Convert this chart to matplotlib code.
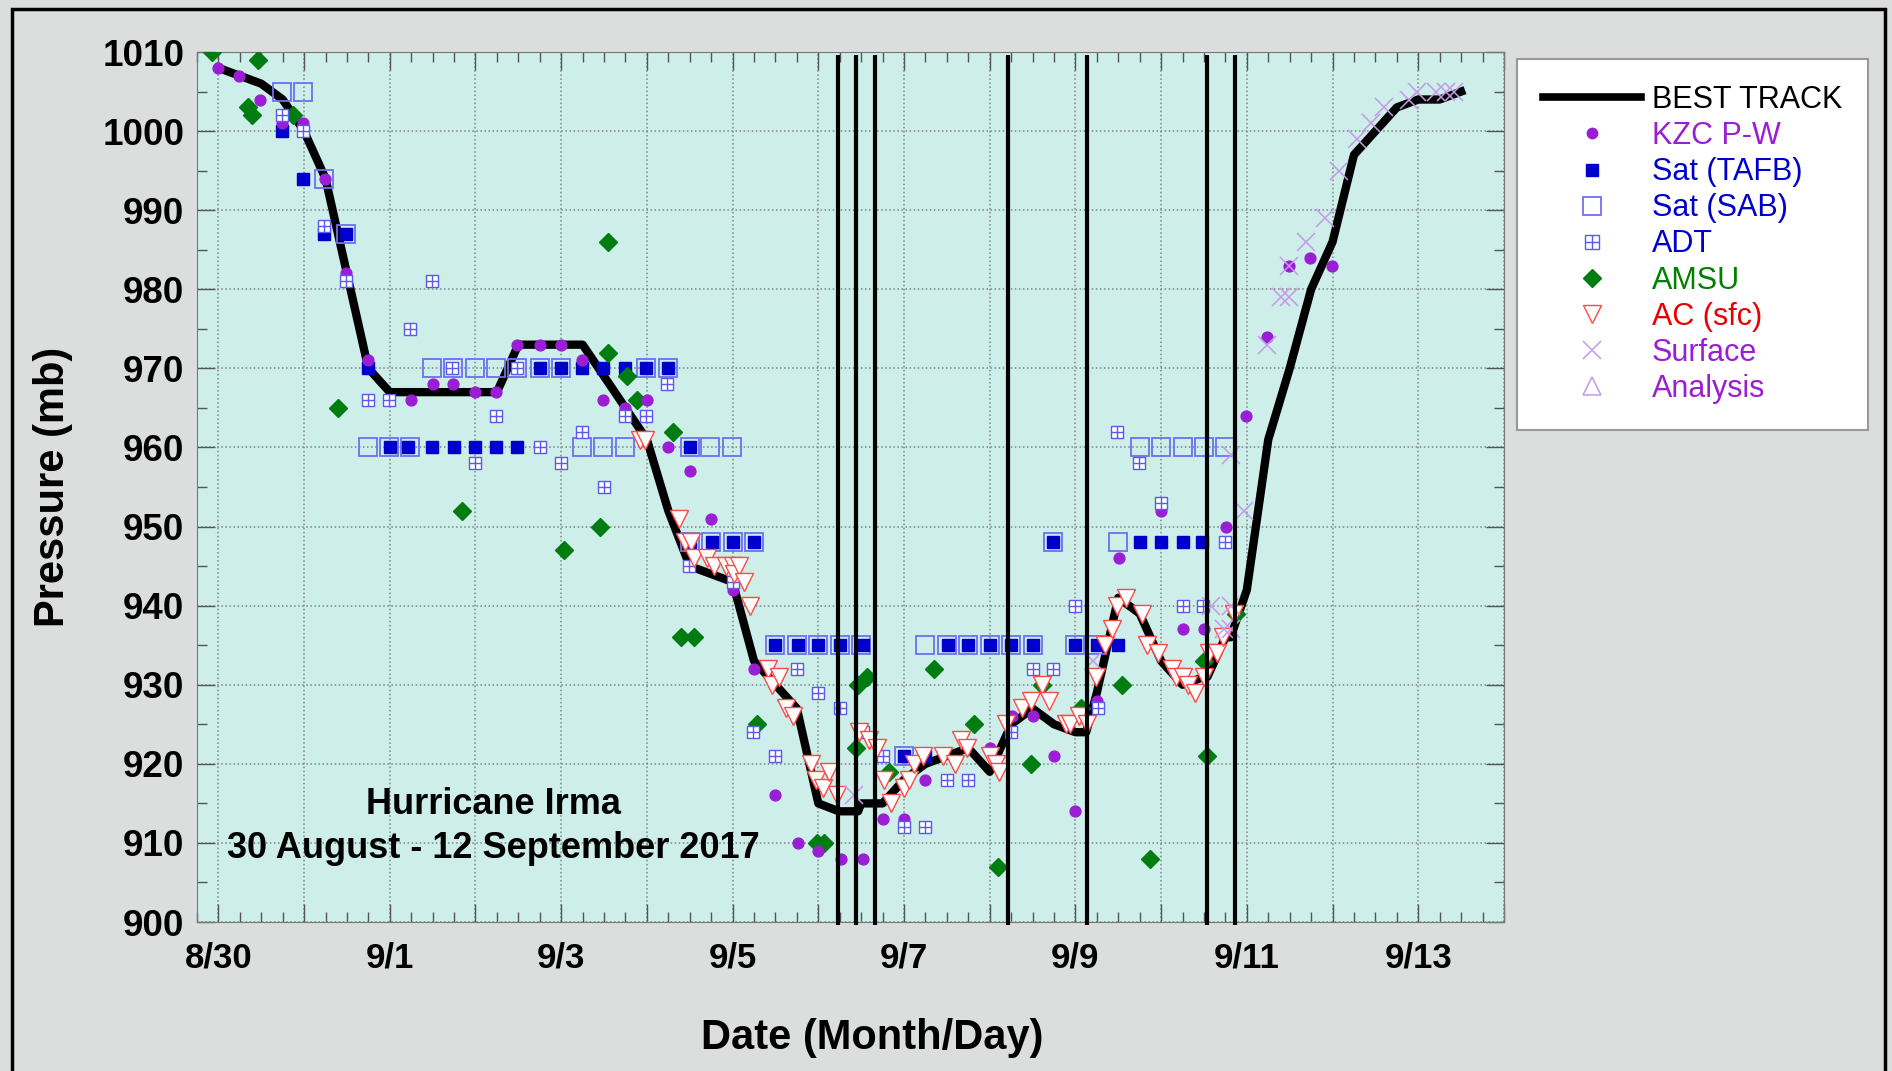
import numpy as np
import matplotlib.pyplot as plt
from matplotlib.lines import Line2D
from matplotlib.patches import Rectangle
from matplotlib.ticker import MultipleLocator

plt.rcParams['font.family'] = ['Liberation Sans', 'DejaVu Sans']

########################### DATA (days since 30 Aug 00 UTC, mb) ###########################
bt_day = [0, 0.25, 0.5, 0.75, 1, 1.25, 1.5, 1.75, 2, 2.25, 2.5, 2.75, 3, 3.25, 3.5, 3.75, 4, 4.25,
          4.5, 4.75, 5, 5.25, 5.5, 5.75, 6, 6.25, 6.5, 6.75, 7, 7.24, 7.25, 7.465, 7.5, 7.69, 7.75,
          8, 8.25, 8.5, 8.75, 9, 9.21, 9.25, 9.5, 9.75, 10, 10.125, 10.25, 10.5, 10.75, 11, 11.25,
          11.5, 11.54, 11.75, 11.81, 12, 12.25, 12.5, 12.75, 13, 13.25, 13.5, 13.75, 14, 14.25, 14.5]
bt_mb = [1008, 1007, 1006, 1004, 1000, 994, 982, 970, 967, 967, 967, 967, 967, 967, 973, 973, 973, 973,
         969, 965, 961, 952, 945, 944, 943, 933, 930, 927, 915, 914, 914, 914, 915, 915, 915,
         918, 920, 921, 922, 919, 924, 925, 927, 925, 924, 924, 929, 941, 939, 933, 930,
         931, 931, 936, 936, 942, 961, 970, 980, 986, 997, 1000, 1003, 1004, 1004, 1005]

kzc_day = [0.0, 0.24, 0.49, 0.74, 0.99, 1.24, 1.49, 1.74, 2.25, 2.5, 2.74, 3.0, 3.24, 3.49, 3.75, 4.0,
           4.24, 4.49, 4.75, 5.0, 5.25, 5.5, 5.75, 6.0, 6.25, 6.5, 6.76, 7.0, 7.26, 7.52, 7.76, 8.0,
           8.25, 9.0, 9.26, 9.5, 9.75, 10.0, 10.25, 10.51, 11.0, 11.25, 11.5, 11.76, 11.99, 12.23,
           12.49, 12.74, 12.99]
kzc_mb = [1008, 1007, 1004, 1001, 1001, 994, 982, 971, 966, 968, 968, 967, 967, 973, 973, 973,
          971, 966, 965, 966, 960, 957, 951, 942, 932, 916, 910, 909, 908, 908, 913, 913,
          918, 922, 926, 926, 921, 914, 928, 946, 952, 937, 937, 950, 964, 974,
          983, 984, 983]

tafb_day = [0.74, 0.99, 1.23, 1.49, 1.74, 2.0, 2.21, 2.49, 2.75, 3.0, 3.24, 3.49, 3.75, 4.0, 4.24,
            4.49, 4.75, 4.99, 5.25, 5.5, 5.5, 5.76, 6.0, 6.25, 6.5, 6.76, 7.0, 7.25, 7.52, 8.0, 8.25,
            8.51, 8.75, 9.0, 9.25, 9.5, 9.74, 10.0, 10.25, 10.5, 10.75, 11.0, 11.25, 11.48]
tafb_mb = [1000, 994, 987, 987, 970, 960, 960, 960, 960, 960, 960, 960, 970, 970, 970,
           970, 970, 970, 970, 960, 948, 948, 948, 948, 935, 935, 935, 935, 935, 921, 921,
           935, 935, 935, 935, 935, 948, 935, 935, 935, 948, 948, 948, 948]

sab_day = [0.74, 0.99, 1.23, 1.49, 1.74, 1.99, 2.24, 2.49, 2.74, 2.99, 3.24, 3.49, 3.75, 4.0, 4.24,
           4.49, 4.75, 4.99, 5.25, 5.5, 5.74, 5.99, 5.5, 5.75, 6.0, 6.25, 6.5, 6.75, 7.0, 7.25, 7.5,
           8.0, 8.25, 8.5, 8.75, 9.0, 9.25, 9.5, 9.74, 10.0, 10.25, 10.5, 10.75, 11.0, 11.25, 11.5,
           11.75]
sab_mb = [1005, 1005, 994, 987, 960, 960, 960, 970, 970, 970, 970, 970, 970, 970, 960,
          960, 960, 970, 970, 960, 960, 960, 948, 948, 948, 948, 935, 935, 935, 935, 935,
          921, 935, 935, 935, 935, 935, 935, 948, 935, 935, 948, 960, 960, 960, 960,
          960]

adt_day = [0.74, 0.99, 1.23, 1.49, 1.74, 1.99, 2.24, 2.49, 2.73, 2.99, 3.24, 3.49, 3.75, 4.0, 4.24,
           4.5, 4.74, 4.99, 5.23, 5.49, 6.0, 6.24, 6.5, 6.75, 7.0, 7.25, 7.52, 7.76, 8.0, 8.25, 8.5,
           8.75, 9.25, 9.5, 9.74, 10.0, 10.26, 10.49, 10.74, 11.0, 11.25, 11.49, 11.75]
adt_mb = [1002, 1000, 988, 981, 966, 966, 975, 981, 970, 958, 964, 970, 960, 958, 962,
          955, 964, 964, 968, 945, 943, 924, 921, 932, 929, 927, 924, 921, 912, 912, 918,
          918, 924, 932, 932, 940, 927, 962, 958, 953, 940, 940, 948]

amsu_day = [-0.07, 0.34, 0.39, 0.46, 0.87, 1.39, 2.84, 4.03, 4.45, 4.55, 4.55, 4.77, 4.88, 5.3, 5.4,
            5.55, 6.29, 6.98, 7.07, 7.44, 7.46, 7.57, 7.83, 8.35, 8.82, 9.1, 9.48, 9.61, 10.06,
            10.54, 10.87, 11.5, 11.53, 11.87]
amsu_mb = [1010, 1003, 1002, 1009, 1002, 965, 952, 947, 950, 986, 972, 969, 966, 962, 936,
           936, 925, 910, 910, 922, 930, 931, 919, 932, 925, 907, 920, 930, 927,
           930, 908, 933, 921, 939]

ac_day = [4.92, 4.98, 5.38, 5.45, 5.51, 5.55, 5.70, 5.78, 5.92, 6.0, 6.02, 6.07, 6.13, 6.2, 6.41,
          6.46, 6.54, 6.62, 6.7, 6.91, 6.97, 7.05, 7.13, 7.22, 7.48, 7.59, 7.69, 7.77, 7.85, 8.0,
          8.06, 8.12, 8.22, 8.45, 8.59, 8.66, 8.74, 9.0, 9.07, 9.11, 9.19, 9.38, 9.48, 9.61, 9.69,
          9.89, 9.94, 10.04, 10.14, 10.24, 10.35, 10.43, 10.49, 10.59, 10.78, 10.84, 10.96, 11.13,
          11.17, 11.25, 11.31, 11.39, 11.5, 11.56, 11.65, 11.72, 11.85]
ac_mb = [961, 961, 951, 948, 948, 946, 946, 945, 945, 945, 944, 945, 943, 940, 932,
         930, 931, 927, 926, 920, 918, 917, 919, 916, 924, 923, 922, 918, 915, 917,
         918, 920, 921, 921, 920, 923, 922, 921, 920, 919, 925, 927, 928, 930, 928,
         925, 925, 926, 925, 931, 935, 937, 940, 941, 939, 935, 934, 932,
         931, 931, 930, 929, 931, 934, 934, 936, 939]

sfc_day = [7.42, 10.2, 11.58, 11.73, 11.82, 11.82, 11.97, 11.82, 12.23, 12.4, 12.49, 12.49, 12.69,
           12.91, 13.08, 13.29, 13.45, 13.6, 13.89, 13.99, 14.21, 14.32, 14.42]
sfc_mb = [916, 933, 940, 937, 940, 937, 952, 959, 973, 979, 979, 983, 986,
          989, 995, 999, 1001, 1003, 1004, 1005, 1005, 1005, 1005]

ana_day = []
ana_mb = []

landfall_day = [7.23, 7.445, 7.66, 9.21, 10.13, 11.54, 11.86]

tick_day = [0, 2, 4, 6, 8, 10, 12, 14]
tick_lab = ['8/30', '9/1', '9/3', '9/5', '9/7', '9/9', '9/11', '9/13']

title1 = 'Hurricane Irma'
title2 = '30 August - 12 September 2017'

leg_labels = ['BEST TRACK', 'KZC P-W', 'Sat (TAFB)', 'Sat (SAB)', 'ADT', 'AMSU', 'AC (sfc)', 'Surface', 'Analysis']
leg_colors = ['black', '#9a1ed4', '#0000cc', '#0000cc', '#0000cc', '#008000', '#e80000', '#9a1ed4', '#9a1ed4']
##########################################################################################

purple = '#9a1ed4'
blue = '#0000cc'
lblue = '#6f6ff0'
green = '#007d10'
red = '#ff4848'
lav = '#c49ae8'

fig = plt.figure(figsize=(18.92, 10.71), dpi=100)
fig.patch.set_facecolor('#dcdedd')
ax = fig.add_axes([0.1041, 0.1391, 0.6908, 0.8123])
ax.set_facecolor('#cdeee9')

ax.set_xlim(-0.25, 15)
ax.set_ylim(900, 1010)

ax.plot(bt_day, bt_mb, c='k', lw=6, zorder=2, solid_joinstyle='round')

ax.plot(sab_day, sab_mb, ls='none', marker='s', ms=13, mfc='none', mec=lblue, mew=1.3, zorder=3)
ax.plot(tafb_day, tafb_mb, ls='none', marker='s', ms=8.5, mfc=blue, mec=blue, zorder=4)
ax.plot(amsu_day, amsu_mb, ls='none', marker='D', ms=9.5, mfc=green, mec=green, zorder=4)
ax.plot(kzc_day, kzc_mb, ls='none', marker='o', ms=7.8, mfc=purple, mec=purple, zorder=4)
ax.plot(adt_day, adt_mb, ls='none', marker='s', ms=9.3, mfc='white', mec='#5a5aee', mew=1, zorder=5)
ax.plot(adt_day, adt_mb, ls='none', marker='+', ms=9.3, mec='#5a5aee', mew=1, zorder=5)
ax.plot(ac_day, ac_mb, ls='none', marker='v', ms=13.5, mfc='white', mec=red, mew=1, zorder=6)
ax.plot(sfc_day, sfc_mb, ls='none', marker='x', ms=12.5, mec=lav, mew=1.1, zorder=6)
ax.plot(ana_day, ana_mb, ls='none', marker='^', ms=13, mfc='none', mec=lav, zorder=6)

ax.vlines(landfall_day, 899.6, 1009.6, colors='k', lw=3, zorder=7, clip_on=False)

# ticks and grid
major = np.arange(0, 16)
ax.set_xticks(major)
ax.set_xticklabels([tick_lab[tick_day.index(d)] if d in tick_day else '' for d in major])
ax.xaxis.set_minor_locator(MultipleLocator(0.25))
ax.yaxis.set_major_locator(MultipleLocator(10))
ax.yaxis.set_minor_locator(MultipleLocator(5))
ax.tick_params(which='both', direction='in', top=True, right=True, color='#555555', width=1)
ax.tick_params(which='major', length=13)
ax.tick_params(which='minor', length=7)
ax.tick_params(axis='x', pad=14, labelsize=25)
ax.tick_params(axis='y', pad=9, labelsize=26.5)
for t in ax.get_xticklabels() + ax.get_yticklabels():
    t.set_fontweight('bold')
ax.grid(True, which='major', color='#7c8583', ls=':', lw=1.1)
for s in ax.spines.values():
    s.set_color('#777777')

ax.set_xlabel('Date (Month/Day)', fontsize=30, fontweight='bold')
ax.set_ylabel('Pressure (mb)', fontsize=30, fontweight='bold')
ax.xaxis.set_label_coords(0.517, -0.11)
ax.yaxis.set_label_coords(-0.095, 0.5)

ax.text(3.21, 913.6, title1, ha='center', va='baseline', fontsize=26, fontweight='bold', zorder=8)
ax.text(3.21, 908.1, title2, ha='center', va='baseline', fontsize=26, fontweight='bold', zorder=8)

handles = [
    Line2D([], [], c='k', lw=5.5),
    Line2D([], [], ls='none', marker='o', ms=7.5, mfc=purple, mec=purple),
    Line2D([], [], ls='none', marker='s', ms=8.5, mfc=blue, mec=blue),
    Line2D([], [], ls='none', marker='s', ms=13, mfc='none', mec=lblue, mew=1.3),
    (Line2D([], [], ls='none', marker='s', ms=9.5, mfc='white', mec='#5a5aee', mew=1),
     Line2D([], [], ls='none', marker='+', ms=9.5, mec='#5a5aee', mew=1)),
    Line2D([], [], ls='none', marker='D', ms=9, mfc=green, mec=green),
    Line2D([], [], ls='none', marker='v', ms=13.5, mfc='white', mec=red, mew=1),
    Line2D([], [], ls='none', marker='x', ms=12.5, mec=lav, mew=1.1),
    Line2D([], [], ls='none', marker='^', ms=13.5, mfc='none', mec=lav, mew=1.1),
]
leg = ax.legend(handles, leg_labels, loc='upper left', bbox_to_anchor=(0.8018, 0.9449),
                bbox_transform=fig.transFigure, fontsize=22, handlelength=3.2,
                handletextpad=0.36, labelspacing=0.2, borderpad=0.85, borderaxespad=0,
                fancybox=False, framealpha=1, edgecolor='#999999')
leg.get_frame().set_linewidth(1.5)
for t, c in zip(leg.get_texts(), leg_colors):
    t.set_color(c)

fig.patches.append(Rectangle((12 / 1892, -0.02), (1885 - 12) / 1892, 1.02 - 9 / 1071,
                             transform=fig.transFigure, fill=False, ec='black', lw=2.5))

plt.savefig('out.png', dpi=100, facecolor=fig.get_facecolor())
